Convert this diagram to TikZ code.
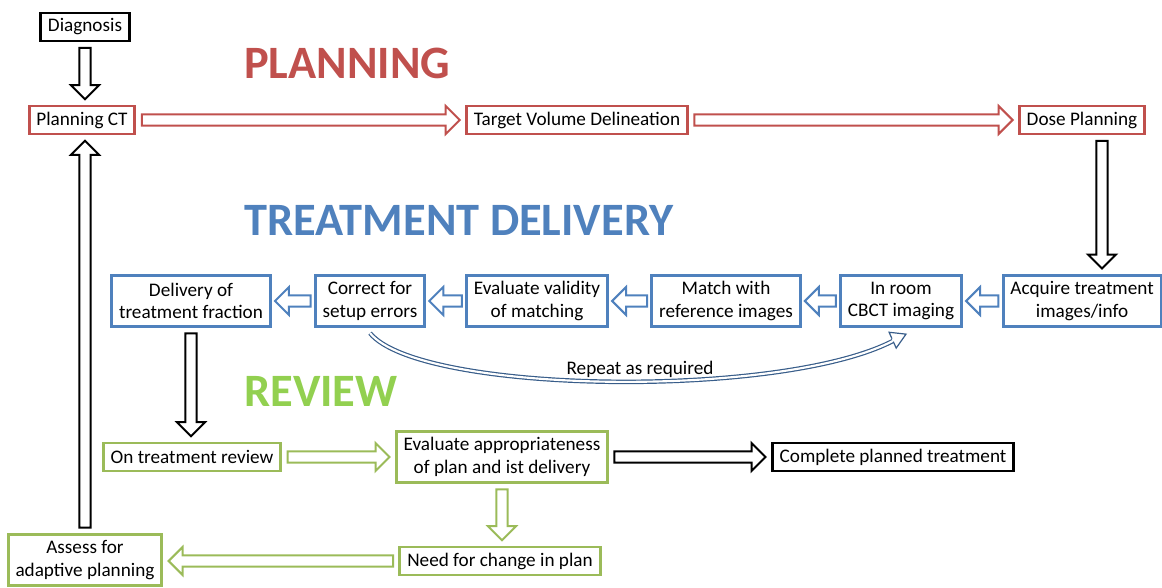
\documentclass[tikz,border=0pt]{standalone}
\usepackage{fontspec}
\setmainfont{Carlito}
\usetikzlibrary{calc}

\definecolor{planred}{HTML}{C0504D}
\definecolor{delblue}{HTML}{4F81BD}
\definecolor{revgreen}{HTML}{9BBB59}
\definecolor{revtitle}{HTML}{92D050}
\definecolor{loopblue}{HTML}{385D8A}

\tikzset{
  box/.style={draw, line width=2.2pt, fill=white, inner xsep=5.5pt, inner ysep=2pt,
    align=center, minimum height=21pt, font=\fontsize{14.4}{17}\selectfont},
  tall/.style={minimum height=38.5pt},
  plan/.style={box, draw=planred},
  deliv/.style={box, draw=delblue},
  review/.style={box, draw=revgreen},
  phase/.style={anchor=west, inner sep=0pt, font=\fontsize{34.8}{38}\selectfont\bfseries},
  lbl/.style={inner sep=0pt, font=\fontsize{14.4}{17}\selectfont},
  arrowbody/.style={fill=white, line width=1.5pt, line join=miter},
  loopline/.style={draw=loopblue, line width=0.9pt, double=white, double distance=1.6pt},
}

% hollow block arrow: [gap]{colour}{tail}{tip}
\newcommand\blockarrow[4][4pt]{%
  \coordinate (ba-t) at ($(#3)!#1!(#4)$);
  \coordinate (ba-h) at ($(#4)!#1!(#3)$);
  \coordinate (ba-b) at ($(ba-h)!10.5pt!(ba-t)$);
  \filldraw[arrowbody, draw=#2]
    ($(ba-t)!4.2pt!90:(ba-h)$) -- ($(ba-b)!4.2pt!-90:(ba-t)$) -- ($(ba-b)!10.5pt!-90:(ba-t)$)
    -- (ba-h) -- ($(ba-b)!10.5pt!90:(ba-t)$) -- ($(ba-b)!4.2pt!90:(ba-t)$)
    -- ($(ba-t)!4.2pt!-90:(ba-h)$) -- cycle;
}

\begin{document}
\begin{tikzpicture}[x=0.75pt, y=-0.75pt]
  \useasboundingbox (0,0) rectangle (1162,588);

  % phase titles
  \node[phase, text=planred] (tplan) at (244,63) {PLANNING};
  \node[phase, text=delblue] (tdel) at (244,220) {TREATMENT DELIVERY};
  \node[phase, text=revtitle] (trev) at (244,391) {REVIEW};

  % planning
  \node[box] (diag) at (85,27) {Diagnosis};
  \node[plan] (plct) at (82,120) {Planning CT};
  \node[plan] (tvd) at (577,120) {Target Volume Delineation};
  \node[plan] (dose) at (1082,120) {Dose Planning};

  % treatment delivery
  \node[deliv, tall] (acq) at (1082,301) {Acquire treatment\\images/info};
  \node[deliv, tall] (cbct) at (901,301) {In room\\CBCT imaging};
  \node[deliv, tall] (match) at (726,301) {Match with\\reference images};
  \node[deliv, tall] (valid) at (537,301) {Evaluate validity\\of matching};
  \node[deliv, tall] (corr) at (370,301) {Correct for\\setup errors};
  \node[deliv, tall] (fract) at (191,301) {Delivery of\\treatment fraction};

  % review
  \node[review] (otr) at (192,457) {On treatment review};
  \node[review, tall] (appr) at (502,457) {Evaluate appropriateness\\of plan and ist delivery};
  \node[box] (done) at (893,457) {Complete planned treatment};
  \node[review] (need) at (500,561) {Need for change in plan};
  \node[review, tall] (adapt) at (85,560) {Assess for\\adaptive planning};

  \blockarrow{black}{diag.south}{diag.south |- plct.north}
  \blockarrow{planred}{plct.east}{tvd.west}
  \blockarrow{planred}{tvd.east}{dose.west}
  \coordinate (dq) at ($(dose.south)+(20,0)$);
  \blockarrow{black}{dq}{dq |- acq.north}

  \blockarrow[2.4pt]{delblue}{acq.west}{cbct.east}
  \blockarrow[2.4pt]{delblue}{cbct.west}{match.east}
  \blockarrow[2.4pt]{delblue}{match.west}{valid.east}
  \blockarrow[2.4pt]{delblue}{valid.west}{corr.east}
  \blockarrow[2.4pt]{delblue}{corr.west}{fract.east}

  \blockarrow{black}{fract.south}{fract.south |- otr.north}
  \blockarrow{revgreen}{otr.east}{appr.west}
  \blockarrow{black}{appr.east}{done.west}
  \blockarrow{revgreen}{appr.south}{appr.south |- need.north}
  \blockarrow{revgreen}{need.west}{adapt.east |- need.west}
  \blockarrow{black}{adapt.north}{adapt.north |- plct.south}

  % repeat loop under the delivery row
  \draw[loopline, shorten >=11pt] ($(corr.south)+(0,5)$)
    .. controls +(50,61) and +(-125,65) .. ($(cbct.south)+(5,6)$)
    coordinate[pos=0.95] (lp) coordinate (lt);
  \coordinate (lb) at ($(lt)!11pt!(lp)$);
  \fill[white] ($(lb)!6.5pt!90:(lt)$) -- (lt) -- ($(lb)!6.5pt!-90:(lt)$) -- cycle;
  \draw[loopblue, line width=0.9pt, line join=miter]
    ($(lb)!1.25pt!90:(lt)$) -- ($(lb)!6.5pt!90:(lt)$) -- (lt)
    -- ($(lb)!6.5pt!-90:(lt)$) -- ($(lb)!1.25pt!-90:(lt)$);
  \node[lbl] (rep) at (640,369) {Repeat as required};
\end{tikzpicture}
\end{document}
